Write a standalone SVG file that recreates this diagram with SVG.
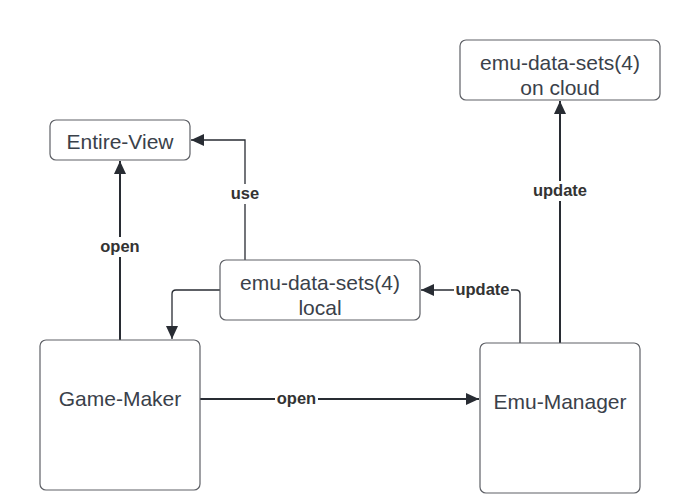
<svg xmlns="http://www.w3.org/2000/svg" width="700" height="503" viewBox="0 0 700 503">
<style>
.node rect{fill:#fff;stroke:#5e6066;stroke-width:1.2}
.node text{font-family:"Liberation Sans",Arial,sans-serif;font-size:21px;fill:#3a414a;text-anchor:middle}
.c{fill:none;stroke:#282c33}
.thick{stroke-width:2}
.thin{stroke-width:1.3}
.lbl{font-family:"Liberation Sans",Arial,sans-serif;font-size:16.5px;font-weight:bold;fill:#333;text-anchor:middle}
.bg{fill:#fff}
</style>
<defs>
<marker id="a" markerUnits="userSpaceOnUse" markerWidth="14" markerHeight="12" refX="13" refY="6" orient="auto">
<path d="M0,0 L13,6 L0,12 Z" fill="#282c33"/>
</marker>
</defs>
<rect width="700" height="503" fill="#fff"/>
<g id="connectors">
<path class="c thick" d="M120,340 V161" marker-end="url(#a)"/>
<path class="c thin" d="M245,260 V140 H191" marker-end="url(#a)"/>
<path class="c thin" d="M220,290 H176 Q172,290 172,294 V339" marker-end="url(#a)"/>
<path class="c thin" d="M520,343 V294 Q520,290 516,290 H421" marker-end="url(#a)"/>
<path class="c thick" d="M560,343 V101" marker-end="url(#a)"/>
<path class="c thick" d="M200,399 H479" marker-end="url(#a)"/>
<rect class="bg" x="98" y="237" width="44" height="20"/>
<text class="lbl" x="120" y="252">open</text>
<rect class="bg" x="229" y="184" width="32" height="20"/>
<text class="lbl" x="245" y="199">use</text>
<rect class="bg" x="454" y="280" width="57" height="20"/>
<text class="lbl" x="482.5" y="295">update</text>
<rect class="bg" x="531" y="181" width="58" height="20"/>
<text class="lbl" x="560" y="196">update</text>
<rect class="bg" x="275" y="389" width="43" height="20"/>
<text class="lbl" x="296.5" y="404">open</text>
</g>
<g id="entire-view" class="node">
<rect x="50" y="120" width="140" height="40" rx="6"/>
<text x="120" y="149">Entire-View</text>
</g>
<g id="local" class="node">
<rect x="220" y="260" width="200" height="60" rx="6"/>
<text x="320" y="290">emu-data-sets(4)</text>
<text x="320" y="315">local</text>
</g>
<g id="cloud" class="node">
<rect x="460" y="40" width="200" height="60" rx="6"/>
<text x="560" y="70">emu-data-sets(4)</text>
<text x="560" y="95">on cloud</text>
</g>
<g id="game-maker" class="node">
<rect x="40" y="340" width="160" height="150" rx="6"/>
<text x="120" y="406">Game-Maker</text>
</g>
<g id="emu-manager" class="node">
<rect x="480" y="343" width="160" height="150" rx="6"/>
<text x="560" y="409">Emu-Manager</text>
</g>
</svg>
